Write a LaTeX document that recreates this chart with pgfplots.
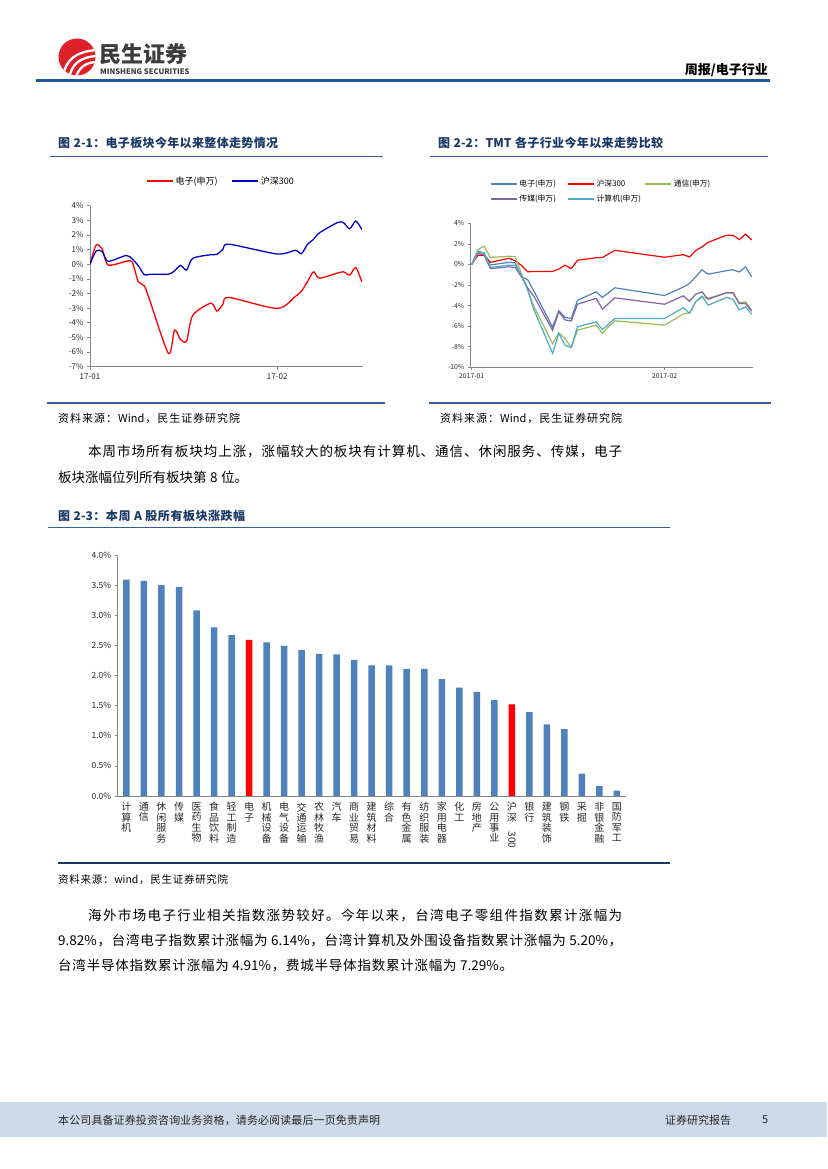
\documentclass[border=0pt]{standalone}
\usepackage{fontspec}
\setmainfont{Noto Sans CJK SC}
\usepackage{graphicx}
\usepackage{xcolor}
\usepackage{pgfplots}
\usepackage{pgfplotstable}
\pgfplotsset{compat=1.18}

% stretchable glue between CJK characters, so [s] boxes can justify a line
\newcount\cjkc
\cjkc="4E00
\loop\ifnum\cjkc<"A000 \XeTeXcharclass\cjkc=1 \advance\cjkc by 1 \repeat
\XeTeXcharclass"3001=3 \XeTeXcharclass"3002=3
\XeTeXcharclass"FF0C=3 \XeTeXcharclass"FF1A=3
\XeTeXinterchartokenstate=1
\newcommand\cjkglue{\hskip 0pt plus 1pt\relax}
\XeTeXinterchartoks 1 1 = {\cjkglue}
\XeTeXinterchartoks 1 3 = {\cjkglue}
\XeTeXinterchartoks 3 1 = {\cjkglue}
\XeTeXinterchartoks 0 1 = {\cjkglue}
\XeTeXinterchartoks 1 0 = {\cjkglue}
\XeTeXinterchartoks 0 3 = {\cjkglue}
\XeTeXinterchartoks 3 0 = {\cjkglue}
\newcommand\gap{\hspace{3.5pt}}

\definecolor{headblue}{RGB}{31,88,152}
\definecolor{capblue}{RGB}{28,58,104}
\definecolor{capline}{RGB}{54,95,145}
\definecolor{darkline}{RGB}{23,55,94}
\definecolor{footbg}{RGB}{204,217,232}
\definecolor{logored}{RGB}{222,32,40}
\definecolor{logogray}{RGB}{60,60,60}
\definecolor{axisgray}{RGB}{134,134,134}
\definecolor{tickgray}{RGB}{40,40,40}
\definecolor{sred}{RGB}{255,0,0}
\definecolor{sblue}{RGB}{0,0,200}
\definecolor{dzblue}{RGB}{79,129,189}
\definecolor{txgreen}{RGB}{155,187,89}
\definecolor{cmpurple}{RGB}{128,100,162}
\definecolor{jsjcyan}{RGB}{75,172,198}
\definecolor{barblue}{RGB}{79,129,189}

% day offset from 2017-01-03; dz=电子(申万) hs=沪深300 tx=通信 cm=传媒 jsj=计算机 (%)
\pgfplotstableread{
d  dz     hs     tx     cm     jsj
0  0      0      0      0      0
1  1.30   0.90   1.45   1.10   1.22
2  1.06   0.88   1.78   0.90   1.13
3  -0.05  0.20   0.68   -0.40  -0.30
6  0.20   0.60   0.80   -0.23  -0.07
7  0.15   0.35   0.75   -0.30  -0.07
8  -1.20  -0.10  -0.90  -1.20  -1.05
9  -1.48  -0.72  -2.50  -2.30  -2.50
10 -2.60  -0.68  -4.10  -3.10  -4.40
13 -6.10  -0.68  -7.70  -6.40  -8.65
14 -4.50  -0.45  -6.65  -4.60  -6.70
15 -5.15  -0.08  -7.20  -5.40  -7.85
16 -5.25  -0.40  -8.07  -5.50  -8.07
17 -3.50  0.40   -6.40  -3.87  -6.06
20 -2.66  0.65   -5.90  -3.30  -5.58
21 -3.20  0.67   -6.70  -4.35  -6.33
22 -2.75  1.02   -6.05  -3.80  -5.80
23 -2.27  1.37   -5.48  -3.25  -5.25
31 -3.02  0.70   -5.90  -3.87  -5.25
34 -2.20  0.95   -4.83  -3.05  -4.20
35 -1.85  0.72   -4.70  -3.58  -4.76
36 -1.20  1.35   -3.64  -2.90  -3.64
37 -0.52  1.70   -3.15  -2.66  -3.08
38 -0.95  2.15   -3.30  -3.38  -3.96
41 -0.60  2.85   -2.75  -2.75  -3.20
42 -0.52  2.83   -2.80  -2.75  -3.40
43 -0.74  2.42   -3.73  -3.80  -4.44
44 -0.23  2.95   -3.64  -3.80  -4.12
45 -1.20  2.38   -4.44  -4.55  -4.83
}\tmtdata

\tikzset{txt/.style={inner sep=0pt, anchor=west}}
\newcommand\bodyf{\fontsize{13.5}{16}\selectfont}

\begin{document}
\begin{tikzpicture}[x=1pt,y=1pt]
\fill[white] (0,0) rectangle (827,1169);

% ---- header
\fill[logored] (77,1169-57) circle (18.5);
\begin{scope}
  \clip (77,1169-57) circle (18.5);
  \draw[white, line width=2.3pt] (63,1169-76) .. controls (66,1169-60) and (75,1169-52) .. (96,1169-50);
  \draw[white, line width=2.3pt] (69,1169-78) .. controls (72,1169-64) and (80,1169-57) .. (97,1169-56);
  \draw[white, line width=2.3pt] (75,1169-80) .. controls (78,1169-68) and (85,1169-62) .. (98,1169-62);
\end{scope}
\node[txt, font=\fontsize{22}{22}\selectfont\bfseries, text=logogray] at (99,1169-54) {民生证券};
\node[txt, font=\fontsize{7.6}{8}\selectfont\bfseries, text=logogray] at (100,1169-72) {MINSHENG SECURITIES};
\node[inner sep=0pt, anchor=east, font=\fontsize{13}{13}\selectfont\bfseries] at (768,1169-70) {周报/电子行业};
\draw[headblue, line width=2.6pt] (36,1169-80.5) -- (770,1169-80.5);

% ---- captions of the two line charts
\node[txt, font=\fontsize{12}{12}\selectfont\bfseries, text=capblue] at (58,1169-143) {\makebox[220pt][s]{图\gap 2-1：电子板块今年以来整体走势情况}};
\node[txt, font=\fontsize{12}{12}\selectfont\bfseries, text=capblue] at (438,1169-143) {\makebox[225pt][s]{图\gap 2-2：TMT\gap 各子行业今年以来走势比较}};
\draw[capline, line width=1.6pt] (50,1169-156.5) -- (383,1169-156.5);
\draw[capline, line width=1.6pt] (430,1169-156.5) -- (768,1169-156.5);

% ---- chart 2-1
\begin{axis}[
  at={(90pt,802.3pt)}, anchor=south west,
  scale only axis, width=273pt, height=161pt,
  xmin=0, xmax=45.2, ymin=-7, ymax=4,
  axis x line=bottom, axis y line=left,
  axis line style={-, draw=axisgray, line width=0.6pt},
  tick align=outside, major tick length=3pt,
  tick style={draw=axisgray, line width=0.6pt},
  xtick={0,31}, xticklabels={17-01,17-02},
  ytick={-7,-6,...,4},
  yticklabels={-7\%,-6\%,-5\%,-4\%,-3\%,-2\%,-1\%,0\%,1\%,2\%,3\%,4\%},
  ticklabel style={font=\fontsize{8}{9}\selectfont, text=tickgray},
  /pgf/number format/assume math mode=true,
  legend columns=2,
  legend style={at={(0.48,1.153)}, anchor=center, draw=none, fill=none,
    font=\fontsize{9}{10}\selectfont,
    /tikz/every even column/.append style={column sep=12pt}},
  legend image code/.code={\draw[#1] (0pt,0pt) -- (26pt,0pt);},
]
\addplot[sred, line width=1.3pt, smooth, tension=0.45] table[x=d, y=dz] {\tmtdata};
\addlegendentry{电子(申万)}
\addplot[sblue, line width=1.3pt, smooth, tension=0.45] table[x=d, y=hs] {\tmtdata};
\addlegendentry{沪深300}
\end{axis}

% ---- chart 2-2
\begin{axis}[
  at={(470.7pt,801.7pt)}, anchor=south west,
  scale only axis, width=282pt, height=144pt,
  xmin=-0.16, xmax=45.16, ymin=-10, ymax=4,
  axis x line=bottom, axis y line=left,
  axis line style={-, draw=axisgray, line width=0.6pt},
  tick align=outside, major tick length=3pt,
  tick style={draw=axisgray, line width=0.6pt},
  xtick={0,31}, xticklabels={2017-01,2017-02},
  ytick={-10,-8,...,4},
  yticklabels={-10\%,-8\%,-6\%,-4\%,-2\%,0\%,2\%,4\%},
  ticklabel style={font=\fontsize{6.8}{7.5}\selectfont, text=tickgray},
  /pgf/number format/assume math mode=true,
  legend columns=3,
  legend style={at={(0.058,1.33)}, anchor=north west, draw=none, fill=none,
    font=\fontsize{7.8}{8.5}\selectfont, row sep=3pt, legend cell align=left},
  legend image code/.code={\draw[#1] (0pt,0pt) -- (26pt,0pt);},
  every axis plot/.append style={line width=1.2pt},
]
\addplot[dzblue] table[x=d, y=dz] {\tmtdata};
\addlegendentry{\makebox[46pt][l]{电子(申万)}}
\addplot[sred] table[x=d, y=hs] {\tmtdata};
\addlegendentry{\makebox[46pt][l]{沪深300}}
\addplot[txgreen] table[x=d, y=tx] {\tmtdata};
\addlegendentry{\makebox[46pt][l]{通信(申万)}}
\addplot[cmpurple] table[x=d, y=cm] {\tmtdata};
\addlegendentry{\makebox[46pt][l]{传媒(申万)}}
\addplot[jsjcyan] table[x=d, y=jsj] {\tmtdata};
\addlegendentry{\makebox[46pt][l]{计算机(申万)}}
\end{axis}

\draw[capline, line width=1.6pt] (47,1169-403) -- (385,1169-403);
\draw[capline, line width=1.6pt] (429,1169-403) -- (771,1169-403);
\node[txt, font=\fontsize{11}{11}\selectfont] at (58,1169-418) {\makebox[182pt][s]{资料来源：Wind，民生证券研究院}};
\node[txt, font=\fontsize{11}{11}\selectfont] at (440,1169-418) {\makebox[182pt][s]{资料来源：Wind，民生证券研究院}};

% ---- paragraph 1
\node[txt, font=\bodyf] at (88,1169-452) {\makebox[534pt][s]{本周市场所有板块均上涨，涨幅较大的板块有计算机、通信、休闲服务、传媒，电子}};
\node[txt, font=\bodyf] at (58,1169-477) {\makebox[185pt][s]{板块涨幅位列所有板块第\gap 8\gap 位。}};

% ---- caption 2-3
\node[txt, font=\fontsize{12}{12}\selectfont\bfseries, text=capblue] at (58,1169-516) {\makebox[187pt][s]{图\gap 2-3：本周\gap A\gap 股所有板块涨跌幅}};
\draw[capline, line width=1.6pt] (48,1169-527.5) -- (670,1169-527.5);

% ---- chart 2-3
\begin{axis}[
  at={(117.7pt,373pt)}, anchor=south west,
  scale only axis, width=508pt, height=241pt,
  xmin=-0.5, xmax=28.5, ymin=0, ymax=4,
  axis x line=bottom, axis y line=left,
  axis line style={-, draw=axisgray, line width=0.8pt},
  tick align=outside, major tick length=3pt,
  ytick style={draw=axisgray, line width=0.6pt},
  xtick style={draw=none},
  ybar, bar width=6.5pt,
  ytick={0,0.5,...,4},
  yticklabels={0.0\%,0.5\%,1.0\%,1.5\%,2.0\%,2.5\%,3.0\%,3.5\%,4.0\%},
  yticklabel style={font=\fontsize{8.5}{9}\selectfont, text=tickgray},
  /pgf/number format/assume math mode=true,
  xtick={0,...,28},
  xticklabels={{计\\算\\机},{通\\信},{休\\闲\\服\\务},{传\\媒},{医\\药\\生\\物},{食\\品\\饮\\料},{轻\\工\\制\\造},{电\\子},{机\\械\\设\\备},{电\\气\\设\\备},{交\\通\\运\\输},{农\\林\\牧\\渔},{汽\\车},{商\\业\\贸\\易},{建\\筑\\材\\料},{综\\合},{有\\色\\金\\属},{纺\\织\\服\\装},{家\\用\\电\\器},{化\\工},{房\\地\\产},{公\\用\\事\\业},{沪\\深\\\rotatebox{-90}{300}},{银\\行},{建\\筑\\装\\饰},{钢\\铁},{采\\掘},{非\\银\\金\\融},{国\\防\\军\\工}},
  xticklabel style={align=center, anchor=north, font=\fontsize{10}{10.4}\selectfont, text=tickgray},
]
\addplot[fill=barblue, draw=none, bar shift=0pt] coordinates {
  (0,3.59) (1,3.57) (2,3.50) (3,3.47) (4,3.08) (5,2.80) (6,2.67)
  (8,2.55) (9,2.49) (10,2.42) (11,2.36) (12,2.35) (13,2.26) (14,2.17)
  (15,2.17) (16,2.11) (17,2.11) (18,1.94) (19,1.80) (20,1.73) (21,1.59)
  (23,1.39) (24,1.19) (25,1.11) (26,0.37) (27,0.17) (28,0.09)
};
\addplot[fill=sred, draw=none, bar shift=0pt] coordinates {(7,2.59) (22,1.52)};
\end{axis}

\draw[darkline, line width=1.4pt] (58,1169-863) -- (670,1169-863);
\node[txt, font=\fontsize{10.5}{11}\selectfont] at (58,1169-880) {\makebox[170pt][s]{资料来源：wind，民生证券研究院}};

% ---- paragraph 2
\node[txt, font=\bodyf] at (88,1169-915) {\makebox[534pt][s]{海外市场电子行业相关指数涨势较好。今年以来，台湾电子零组件指数累计涨幅为}};
\node[txt, font=\bodyf] at (58,1169-940) {\makebox[564pt][s]{9.82\%，台湾电子指数累计涨幅为\gap 6.14\%，台湾计算机及外围设备指数累计涨幅为\gap 5.20\%，}};
\node[txt, font=\bodyf] at (58,1169-965) {\makebox[455pt][s]{台湾半导体指数累计涨幅为\gap 4.91\%，费城半导体指数累计涨幅为\gap 7.29\%。}};

% ---- footer
\fill[footbg] (0,1169-1137) rectangle (827,1169-1102);
\node[txt, font=\fontsize{11}{11}\selectfont, text=black!85] at (58,1169-1120) {\makebox[322pt][s]{本公司具备证券投资咨询业务资格，请务必阅读最后一页免责声明}};
\node[txt, font=\fontsize{11}{11}\selectfont, text=black!85] at (665,1169-1120) {\makebox[65pt][s]{证券研究报告}};
\node[txt, font=\fontsize{11}{11}\selectfont, text=black!85] at (762,1169-1120) {5};
\end{tikzpicture}
\end{document}
